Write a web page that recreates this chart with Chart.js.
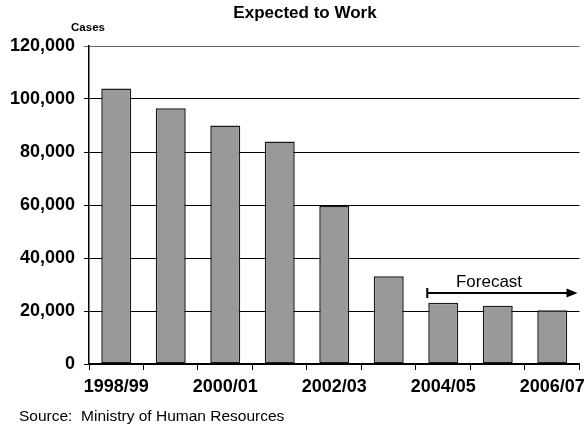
<!DOCTYPE html>
<html>
<head>
<meta charset="utf-8">
<script src="https://cdn.jsdelivr.net/npm/chart.js@4/dist/chart.umd.min.js"></script>
<style>
  html, body { margin: 0; padding: 0; background: #fff; overflow: hidden; }
  /* slightly wider than the window so the last year label runs off the edge */
  #wrap { position: relative; width: 591px; height: 425px; }
</style>
</head>
<body>
<div id="wrap"><canvas id="workChart"></canvas></div>
<script>
// Fiscal years and caseload counts
const years = ['1998/99', '1999/00', '2000/01', '2001/02', '2002/03', '2003/04', '2004/05', '2005/06', '2006/07'];
const cases = [104000, 96500, 90000, 84000, 59600, 33100, 23100, 22000, 20300];
const yTicks = [0, 20000, 40000, 60000, 80000, 100000, 120000];
const forecastFrom = '2004/05';

const FONT = 'Arial, "Liberation Sans", sans-serif';

// Title, axis caption, source note and the forecast arrow
const annotations = {
    id: 'annotations',
    afterDraw(chart) {
        const c = chart.ctx;
        const area = chart.chartArea;
        const y = chart.scales.y;
        c.save();
        c.fillStyle = '#000';
        c.textBaseline = 'middle';

        c.textAlign = 'center';
        c.font = 'bold 17px ' + FONT;
        c.fillText('Expected to Work', 305, 13);

        c.font = 'bold 11.5px ' + FONT;
        c.fillText('Cases', 88, 28);

        c.textAlign = 'left';
        c.font = '15.5px ' + FONT;
        c.fillText('Source:  Ministry of Human Resources', 19, 417);

        // forecast arrow starts at the left edge of the first forecast bar
        const meta = chart.getDatasetMeta(0);
        const bar = meta.data[years.indexOf(forecastFrom)];
        const x0 = bar.x - bar.width / 2 - 1;
        const x1 = area.right - 2;
        const ay = y.getPixelForValue(26800);
        c.strokeStyle = '#000';
        c.lineWidth = 2;
        c.beginPath();
        c.moveTo(x0, ay);
        c.lineTo(x1 - 8, ay);
        c.moveTo(x0, ay - 5);
        c.lineTo(x0, ay + 5);
        c.stroke();
        c.beginPath();
        c.moveTo(x1, ay);
        c.lineTo(x1 - 11, ay - 4.5);
        c.lineTo(x1 - 11, ay + 4.5);
        c.closePath();
        c.fill();

        c.textAlign = 'center';
        c.font = '17px ' + FONT;
        c.fillText('Forecast', 489, y.getPixelForValue(31000));
        c.restore();
    }
};

new Chart(document.getElementById('workChart'), {
    type: 'bar',
    data: {
        labels: years,
        datasets: [{
            label: 'Cases',
            data: cases,
            backgroundColor: '#999999',
            borderColor: '#1a1a1a',
            borderWidth: 1.5,
            borderSkipped: false,
            categoryPercentage: 0.55,
            barPercentage: 1
        }]
    },
    options: {
        responsive: true,
        maintainAspectRatio: false,
        animation: false,
        layout: { padding: { top: 46, right: 4, left: 0, bottom: 0 } },
        plugins: {
            legend: { display: false },
            tooltip: { enabled: false },
            title: { display: false }
        },
        scales: {
            x: {
                offset: true,
                grid: {
                    display: true,
                    drawOnChartArea: false,
                    offset: true,
                    tickLength: 6,
                    color: '#000'
                },
                border: { color: '#000', width: 1.5 },
                ticks: {
                    autoSkip: false,
                    maxRotation: 0,
                    padding: 6,
                    color: '#000',
                    font: { family: FONT, size: 18, weight: 'bold' },
                    callback: (v, i) => (i % 2 === 0 ? years[i] : '')
                },
                afterFit(scale) { scale.height = 61; }
            },
            y: {
                min: 0,
                max: 120000,
                afterBuildTicks(scale) {
                    scale.ticks = yTicks.map(v => ({ value: v }));
                },
                grid: {
                    color: ctx => (ctx.tick && ctx.tick.value === 120000 ? '#666' : '#000'),
                    lineWidth: 1,
                    tickLength: 5
                },
                border: { color: '#000', width: 1.5 },
                ticks: {
                    padding: 9,
                    color: '#000',
                    font: { family: FONT, size: 18, weight: 'bold' },
                    callback: v => v.toLocaleString('en-US')
                },
                afterFit(scale) { scale.width = 89; }
            }
        }
    },
    plugins: [annotations]
});
</script>
</body>
</html>
